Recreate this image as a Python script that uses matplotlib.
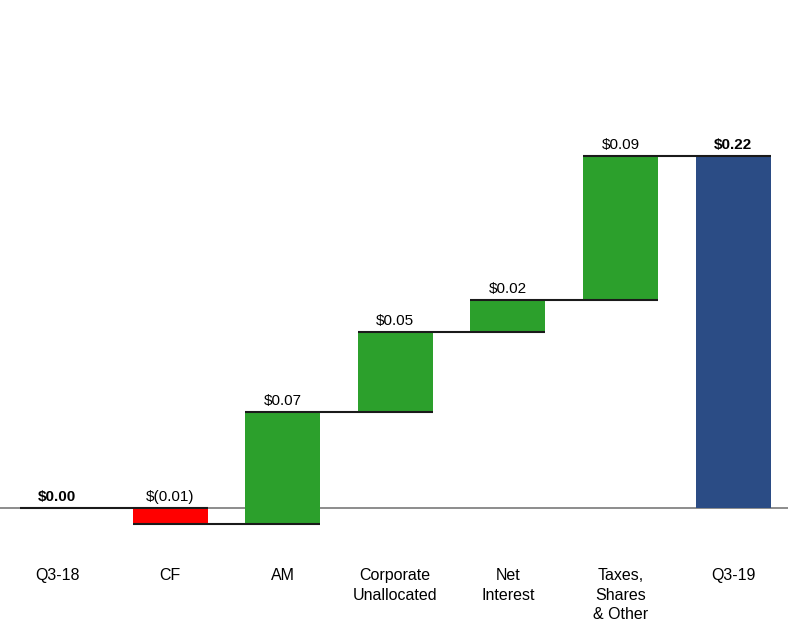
import matplotlib
matplotlib.use("Agg")
import matplotlib.pyplot as plt

categories = ["Q3-18", "CF", "AM", "Corporate\nUnallocated", "Net\nInterest", "Taxes,\nShares\n& Other", "Q3-19"]
changes = [0.00, -0.01, 0.07, 0.05, 0.02, 0.09, 0.22]
labels = ["$0.00", "$(0.01)", "$0.07", "$0.05", "$0.02", "$0.09", "$0.22"]
kinds = ["total", "delta", "delta", "delta", "delta", "delta", "total"]

plt.rcParams['font.family'] = ['Liberation Sans', 'DejaVu Sans']

fig = plt.figure(figsize=(7.88, 6.24), dpi=100)
ax = fig.add_axes([0, 0, 1, 1])
ax.set_xlim(-0.51, 6.488)
ax.set_ylim(-0.0725, 0.3175)
ax.axis('off')

width = 0.666
green = '#2CA02C'
red = '#FF0000'
blue = '#2B4C85'

ax.axhline(0, color='#8C8C8C', lw=1.4, zorder=1)

running = 0.0
starts, ends = [], []
for i, (v, k) in enumerate(zip(changes, kinds)):
    if k == "total":
        start, end = 0.0, v
        color = blue
    else:
        start, end = running, running + v
        color = green if v >= 0 else red
    running = end
    starts.append(start)
    ends.append(end)
    if end != start:
        ax.bar(i, end - start, bottom=start, width=width, color=color, zorder=2, linewidth=0)

# connectors
for i in range(len(changes) - 1):
    x0 = i - width / 2
    x1 = i + 1 + width / 2
    ax.plot([x0, x1], [ends[i], ends[i]], color='#1a1a1a', lw=1.5, zorder=3, solid_capstyle='butt')

# value labels
for i, lab in enumerate(labels):
    top = max(starts[i], ends[i])
    bold = kinds[i] == "total"
    ax.text(i, top + 0.0022, lab, ha='center', va='bottom', fontsize=11,
            fontweight='bold' if bold else 'normal', color='black', zorder=4)

# category labels
for i, c in enumerate(categories):
    ax.text(i, -0.0375, c, ha='center', va='top', fontsize=11.5, linespacing=1.38,
            color='black')

fig.savefig("out.png", dpi=100)
